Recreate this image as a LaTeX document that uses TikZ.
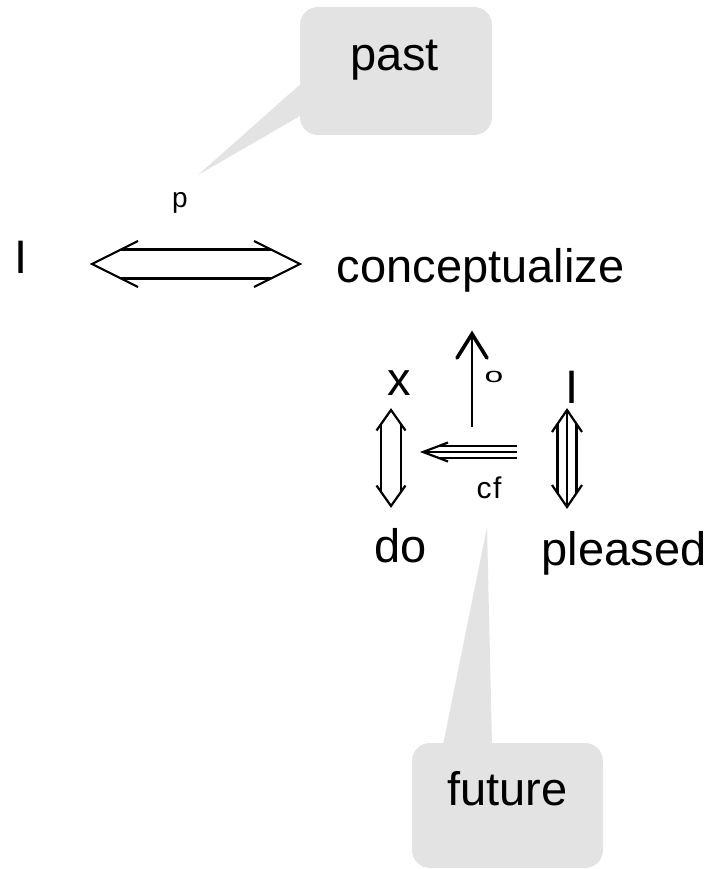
\documentclass[tikz,border=0pt]{standalone}
\usepackage{fontspec}
\setmainfont{Liberation Sans}
\usetikzlibrary{calc}
\definecolor{callgray}{RGB}{227,227,227}
\begin{document}
\begin{tikzpicture}[x=1pt,y=-1pt,
  bigtxt/.style={font=\fontsize{47}{52}\selectfont, inner sep=0pt, anchor=base},
  smalltxt/.style={font=\fontsize{28}{32}\selectfont, inner sep=0pt, anchor=base},
  callbox/.style={fill=callgray, draw=none, rounded corners=18pt, inner sep=0pt},
  arr/.style={line width=2.2pt, line join=miter, line cap=butt},
  headarr/.style={line width=3.6pt, line join=miter, line cap=round},
]
\useasboundingbox (0,0) rectangle (711,869);

% callout boxes
\node[callbox, minimum width=192pt, minimum height=128pt] (pastbox) at (396,71) {};
\coordinate (pasttip) at (198,175);
\fill[callgray] ($(pastbox.west)+(2,12)$) -- (pasttip) -- ($(pastbox.west)+(2,44)$) -- cycle;

\node[callbox, minimum width=191pt, minimum height=125pt] (futurebox) at (507.5,805.5) {};
\coordinate (futuretip) at (487,527);
\fill[callgray] ($(futurebox.north)+(-64.5,2)$) -- (futuretip) -- ($(futurebox.north)+(-15.5,2)$) -- cycle;

% texts
\node[bigtxt] (past) at (394.5,71) {past};
\node[bigtxt] (future) at (507.5,805) {future};
\node[bigtxt] (I1) at (21,273) {I};
\node[bigtxt] (concept) at (480.5,282) {conceptualize};
\node[bigtxt] (x) at (399,395) {x};
\node[bigtxt] (I2) at (572,403) {I};
\node[bigtxt] (do) at (401,562) {do};
\node[bigtxt] (pleased) at (624,565) {pleased};
\node[smalltxt] (p) at (180,207) {p};
\node[smalltxt, font=\fontsize{30}{34}\selectfont] (cf) at (489,498) {c\kern1.5pt f};
\node[smalltxt, anchor=center] (o) at (494,377) {\scalebox{1.2}[0.75]{o}};

% double horizontal arrow I <=> conceptualize
\coordinate (h1) at (92,264);
\coordinate (h2) at (300,264);
\draw[arr] ($(h1)+(46,-23)$) -- (h1) -- ($(h1)+(46,23)$);
\draw[arr] ($(h2)+(-46,-23)$) -- (h2) -- ($(h2)+(-46,23)$);
\draw[arr] ($(h1)+(29,-14.5)$) -- ($(h2)+(-29,-14.5)$);
\draw[arr] ($(h1)+(29,14.5)$) -- ($(h2)+(-29,14.5)$);

% double vertical arrow x <=> do
\coordinate (v1) at (391,410);
\coordinate (v2) at (391,506);
\draw[arr] ($(v1)+(-14.5,20.5)$) -- (v1) -- ($(v1)+(14.5,20.5)$);
\draw[arr] ($(v2)+(-14.5,-20.5)$) -- (v2) -- ($(v2)+(14.5,-20.5)$);
\draw[arr] ($(v1)+(-10,14)$) -- ($(v2)+(-10,-14)$);
\draw[arr] ($(v1)+(10,14)$) -- ($(v2)+(10,-14)$);

% triple vertical arrow I <=> pleased
\coordinate (t1) at (567,410);
\coordinate (t2) at (567,507);
\draw[arr] ($(t1)+(-15,22)$) -- (t1) -- ($(t1)+(15,22)$);
\draw[arr] ($(t2)+(-15,-22)$) -- (t2) -- ($(t2)+(15,-22)$);
\draw[arr] ($(t1)+(-9.5,14)$) -- ($(t2)+(-9.5,-14)$);
\draw[arr] (t1) -- (t2);
\draw[arr] ($(t1)+(9.5,14)$) -- ($(t2)+(9.5,-14)$);

% triple horizontal arrow (cf)
\coordinate (c1) at (423,452);
\coordinate (c2) at (517,452);
\draw[arr] ($(c1)+(25,-9.5)$) -- (c1) -- ($(c1)+(25,9.5)$);
\draw[arr] ($(c1)+(16,-6)$) -- ($(c2)+(0,-6)$);
\draw[arr] (c1) -- (c2);
\draw[arr] ($(c1)+(16,6)$) -- ($(c2)+(0,6)$);

% up arrow (o) to conceptualize
\coordinate (u1) at (472,427);
\coordinate (u2) at (472,334);
\draw[arr] (u1) -- (u2);
\draw[headarr] ($(u2)+(-15,24)$) -- (u2) -- ($(u2)+(15,24)$);
\end{tikzpicture}
\end{document}
